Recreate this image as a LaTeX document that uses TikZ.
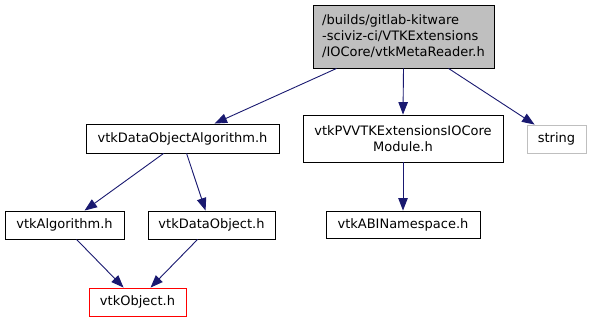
\documentclass[tikz,border=0pt]{standalone}
\usepackage{fontspec}
\setmainfont{DejaVu Sans}
\usetikzlibrary{arrows.meta}
\definecolor{edgeblue}{HTML}{191970}
\definecolor{boxgray}{HTML}{BFBFBF}
\tikzset{
  box/.style={draw=black, line width=0.9pt, inner sep=0pt, align=center, font=\fontsize{13}{16}\selectfont},
  edge/.style={draw=edgeblue, line width=0.9pt, -{Triangle[length=12.5pt,width=9.5pt]}},
}
\begin{document}
\begin{tikzpicture}[x=1pt,y=-1pt]
\useasboundingbox (0,0) rectangle (591,322);
\node[box, fill=boxgray, minimum width=181pt, minimum height=63pt, align=left] (top) at (403.5,36.5)
  {/builds/gitlab-kitware\\-sciviz-ci/VTKExtensions\\/IOCore/vtkMetaReader.h};
\node[box, minimum width=193pt, minimum height=29pt] (doa) at (182.5,138.5) {vtkDataObjectAlgorithm.h};
\node[box, minimum width=200pt, minimum height=47pt] (pv) at (403,138.5) {vtkPVVTKExtensionsIOCore\\Module.h};
\node[box, draw=boxgray, minimum width=59pt, minimum height=28pt] (str) at (556.5,139) {string};
\node[box, minimum width=154pt, minimum height=27pt] (abi) at (403,224.5) {vtkABINamespace.h};
\node[box, minimum width=119pt, minimum height=28pt] (alg) at (64.5,225) {vtkAlgorithm.h};
\node[box, minimum width=127pt, minimum height=28pt] (dob) at (211.5,225) {vtkDataObject.h};
\node[box, draw=red, minimum width=97pt, minimum height=28pt] (obj) at (137.5,302) {vtkObject.h};

\draw[edge] ([xshift=24pt]top.south west) -- ([xshift=129pt]doa.north west);
\draw[edge] (top.south) -- (pv.north);
\draw[edge] ([xshift=136pt]top.south west) -- ([xshift=8pt]str.north west);
\draw[edge] ([xshift=78pt]doa.south west) -- ([xshift=80pt]alg.north west);
\draw[edge] ([xshift=101pt]doa.south west) -- ([xshift=58pt]dob.north west);
\draw[edge] (pv.south) -- (abi.north);
\draw[edge] ([xshift=72pt]alg.south west) -- ([xshift=35pt]obj.north west);
\draw[edge] ([xshift=50pt]dob.south west) -- ([xshift=62pt]obj.north west);
\end{tikzpicture}
\end{document}
